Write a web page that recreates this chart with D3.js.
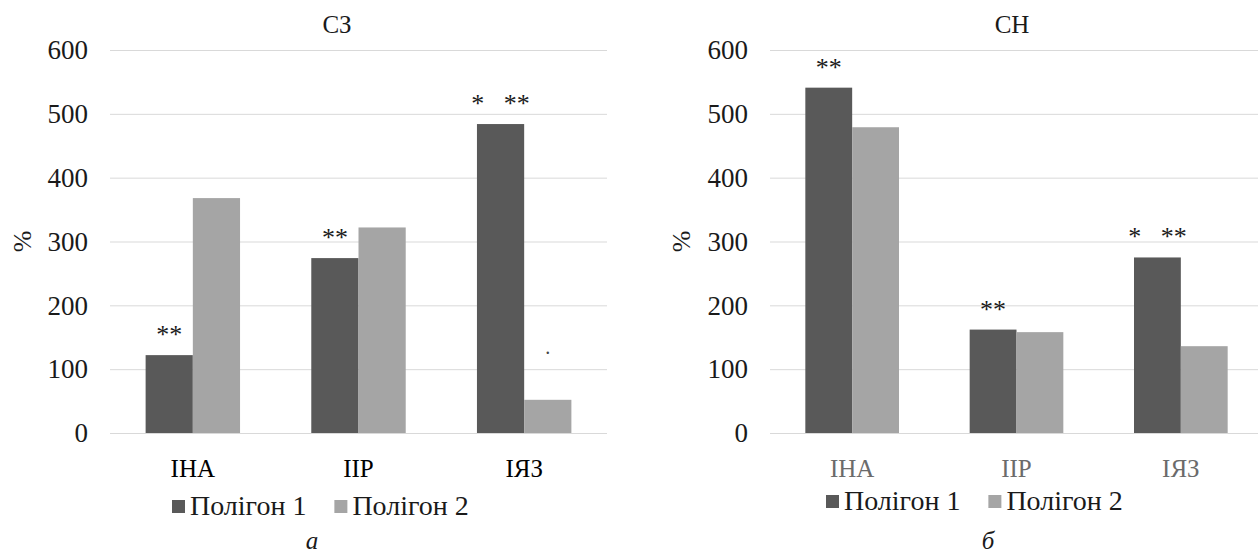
<!DOCTYPE html>
<html>
<head>
<meta charset="utf-8">
<script src="https://cdn.jsdelivr.net/npm/d3@7"></script>
<style>
  html, body { margin: 0; padding: 0; background: #fff; }
  svg { display: block; }
</style>
</head>
<body>
<svg id="fig" width="1258" height="556"></svg>
<script>
// Categories and series
const categories = ["ІНА", "ІІР", "ІЯЗ"];
const seriesNames = ["Полігон 1", "Полігон 2"];
const yTicks = [0, 100, 200, 300, 400, 500, 600];

// Panel "СЗ"
const szPolygon1 = [122, 274, 484];
const szPolygon2 = [368, 322, 52];
const szStars = ["**", "**", "*   **"];
const szNotes2 = ["", "", "."];

// Panel "СН"
const snPolygon1 = [541, 162, 275];
const snPolygon2 = [479, 158, 136];
const snStars = ["**", "**", "*   **"];
const snNotes2 = ["", "", ""];

const colors = ["#595959", "#a5a5a5"];
const serif = "'Liberation Serif', 'Times New Roman', Tinos, 'DejaVu Serif', serif";

const panels = [
  { title: "СЗ", caption: "а", s1: szPolygon1, s2: szPolygon2, stars: szStars, notes2: szNotes2,
    x0: 110, x1: 607, titleX: 337, legendX: 172, legendY: 515, captionX: 312, unitX: 22, catColor: "#000" },
  { title: "СН", caption: "б", s1: snPolygon1, s2: snPolygon2, stars: snStars, notes2: snNotes2,
    x0: 770, x1: 1263, titleX: 1012, legendX: 826, legendY: 510, captionX: 988, unitX: 681, catColor: "#6b6b6b" }
];

const svg = d3.select("#fig").attr("font-family", serif);
svg.append("rect").attr("width", 1258).attr("height", 556).attr("fill", "#fff");

const y = d3.scaleLinear().domain([0, 600]).range([433, 50]);

panels.forEach(p => {
  const g = svg.append("g").attr("font-family", serif);
  const x = d3.scaleBand().domain(categories).range([p.x0, p.x1])
    .paddingInner(0.43).paddingOuter(0.215);
  const xs = d3.scaleBand().domain([0, 1]).range([0, x.bandwidth()]);

  // gridlines
  g.append("g").selectAll("line").data(yTicks).join("line")
    .attr("x1", p.x0).attr("x2", p.x1)
    .attr("y1", d => y(d) + 0.5).attr("y2", d => y(d) + 0.5)
    .attr("stroke", "#d9d9d9").attr("stroke-width", 1);

  // y tick labels
  g.append("g").selectAll("text").data(yTicks).join("text")
    .attr("x", p.x0 - 22).attr("y", d => y(d))
    .attr("dy", "0.34em")
    .attr("text-anchor", "end")
    .attr("font-size", 27).attr("fill", "#1a1a1a")
    .text(d => d);

  // unit label
  g.append("text")
    .attr("transform", `translate(${p.unitX},${y(300)}) rotate(-90)`)
    .attr("dy", "0.34em")
    .attr("text-anchor", "middle")
    .attr("font-size", 26).attr("fill", "#1a1a1a")
    .text("%");

  // title
  g.append("text")
    .attr("x", p.titleX).attr("y", 33)
    .attr("text-anchor", "middle")
    .attr("font-size", 25).attr("fill", "#1a1a1a")
    .text(p.title);

  // bars
  const series = [p.s1, p.s2];
  series.forEach((vals, si) => {
    g.append("g").selectAll("rect").data(categories).join("rect")
      .attr("x", c => x(c) + xs(si))
      .attr("width", xs.bandwidth())
      .attr("y", (c, i) => y(vals[i]))
      .attr("height", (c, i) => y(0) - y(vals[i]))
      .attr("fill", colors[si]);
  });

  // significance marks above the first series
  g.append("g").selectAll("text").data(categories).join("text")
    .attr("x", c => x(c) + xs(0) + xs.bandwidth() / 2)
    .attr("y", (c, i) => y(p.s1[i]) - 12)
    .attr("text-anchor", "middle")
    .attr("font-size", 26).attr("fill", "#1a1a1a")
    .style("white-space", "pre")
    .text((c, i) => p.stars[i]);

  // note above the second series
  g.append("g").selectAll("text").data(categories).join("text")
    .attr("x", c => x(c) + xs(1) + xs.bandwidth() / 2)
    .attr("y", (c, i) => y(p.s2[i]) - 46)
    .attr("text-anchor", "middle")
    .attr("font-size", 20).attr("fill", "#444")
    .text((c, i) => p.notes2[i]);

  // category labels
  g.append("g").selectAll("text").data(categories).join("text")
    .attr("x", c => x(c) + x.bandwidth() / 2)
    .attr("y", 477)
    .attr("text-anchor", "middle")
    .attr("font-size", 25).attr("fill", p.catColor)
    .text(c => c);

  // legend
  const lg = g.append("g");
  let lx = p.legendX;
  seriesNames.forEach((name, si) => {
    lg.append("rect")
      .attr("x", lx).attr("y", p.legendY - 15)
      .attr("width", 13).attr("height", 13)
      .attr("fill", colors[si]);
    const t = lg.append("text")
      .attr("x", lx + 18).attr("y", p.legendY)
      .attr("font-size", 28).attr("fill", "#1a1a1a")
      .text(name);
    lx += 18 + t.node().getComputedTextLength() + 28;
  });

  // panel caption
  g.append("text")
    .attr("x", p.captionX).attr("y", 549)
    .attr("text-anchor", "middle")
    .attr("font-size", 25).attr("font-style", "italic").attr("fill", "#1a1a1a")
    .text(p.caption);
});
</script>
</body>
</html>
